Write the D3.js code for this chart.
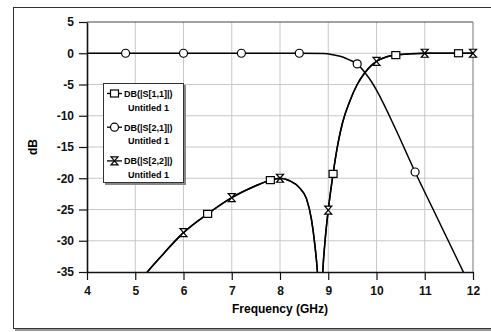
<!DOCTYPE html>
<html lang="en">
<head>
    <meta charset="UTF-8">
    <title>S-parameters</title>
    <script type="text/javascript" src="https://d3js.org/d3.v7.min.js"></script>
    <style>
        body { margin: 0; background: #fff; }
        text { font-family: "Liberation Sans", Arial, sans-serif; font-weight: bold; }
    </style>
</head>
<body>
    <svg width="491" height="332"></svg>
    <script>
        // frequency (GHz) / dB
        var s11 = [[5.0,-37.6],[5.25,-35.0],[5.5,-32.8],[6.0,-28.7],[6.5,-25.7],[7.0,-23.1],[7.5,-21.2],
            [7.8,-20.3],[8.0,-20.0],[8.2,-20.4],[8.4,-21.5],[8.55,-23.3],[8.65,-26.5],[8.72,-30.5],
            [8.78,-35.5],[8.84,-45],[8.88,-36],[8.94,-29.5],[9.0,-25.1],[9.1,-19.3],[9.2,-14.5],
            [9.3,-11.0],[9.45,-7.6],[9.6,-5.0],[9.75,-3.2],[9.9,-1.9],[10.0,-1.3],[10.2,-0.6],
            [10.4,-0.3],[10.7,-0.1],[11.0,0],[11.7,0],[12.0,0]];
        var s22 = [[5.0,-37.6],[5.25,-35.0],[5.5,-32.8],[6.0,-28.7],[6.5,-25.7],[7.0,-23.1],[7.5,-21.2],
            [7.8,-20.3],[8.0,-20.0],[8.2,-20.4],[8.4,-21.5],[8.55,-23.3],[8.65,-26.5],[8.72,-30.5],
            [8.78,-35.5],[8.84,-45],[8.88,-36],[8.94,-29.5],[9.0,-25.1],[9.1,-19.3],[9.2,-14.5],
            [9.3,-11.0],[9.45,-7.6],[9.6,-5.0],[9.75,-3.2],[9.9,-1.9],[10.0,-1.3],[10.2,-0.6],
            [10.4,-0.3],[10.7,-0.1],[11.0,0],[11.7,0],[12.0,0]];
        var s21 = [[4.0,0],[4.8,0],[6.0,0],[7.2,0],[8.4,0],[8.9,-0.05],[9.1,-0.25],[9.3,-0.6],
            [9.45,-1.1],[9.6,-1.7],[9.75,-3.0],[9.9,-4.6],[10.0,-5.9],[10.4,-12.2],[10.8,-19.0],
            [11.2,-25.4],[11.6,-31.8],[11.85,-35.8]];

        var s11Markers = [6.5, 7.8, 9.1, 10.4, 11.7];
        var s21Markers = [4.8, 6.0, 7.2, 8.4, 9.6, 10.8];
        var s22Markers = [6, 7, 8, 9, 10, 11, 12];

        var xTicks = [4, 5, 6, 7, 8, 9, 10, 11, 12];
        var yTicks = [5, 0, -5, -10, -15, -20, -25, -30, -35];
        var legendNames = ["DB(|S[1,1]|)", "DB(|S[2,1]|)", "DB(|S[2,2]|)"];
        var legendSub = "Untitled 1";

        var svg = d3.select("svg");

        // outer frame with shadow
        svg.append("rect").attr("x", 15).attr("y", 9).attr("width", 490).attr("height", 322)
            .attr("fill", "#999");
        svg.append("rect").attr("x", 13.5).attr("y", 7.5).attr("width", 490).attr("height", 321)
            .attr("fill", "#fff").attr("stroke", "#333").attr("stroke-width", 1);

        var plotL = 87, plotR = 473, plotT = 22, plotB = 272;
        var x = d3.scaleLinear().domain([4, 12]).range([plotL, plotR]);
        var y = d3.scaleLinear().domain([-35, 5]).range([plotB, plotT]);

        // grid
        svg.append("g").selectAll("line").data(xTicks.slice(1, -1)).enter().append("line")
            .attr("x1", d => x(d)).attr("x2", d => x(d)).attr("y1", plotT).attr("y2", plotB)
            .attr("stroke", "#c8c8c8").attr("stroke-width", 1);
        svg.append("g").selectAll("line").data(yTicks.slice(1, -1)).enter().append("line")
            .attr("y1", d => y(d)).attr("y2", d => y(d)).attr("x1", plotL).attr("x2", plotR)
            .attr("stroke", "#c8c8c8").attr("stroke-width", 1);

        // plot border
        svg.append("line").attr("x1", plotL).attr("x2", plotR).attr("y1", plotT).attr("y2", plotT)
            .attr("stroke", "#444").attr("stroke-width", 1);
        svg.append("line").attr("x1", plotR).attr("x2", plotR).attr("y1", plotT).attr("y2", plotB)
            .attr("stroke", "#777").attr("stroke-width", 1);

        // axes (plain hyphen for negatives, like the original)
        var fmt = d => String(d);
        var xAxis = svg.append("g").attr("transform", "translate(0," + plotB + ")")
            .call(d3.axisBottom(x).tickValues(xTicks).tickFormat(fmt).tickSize(8).tickSizeOuter(0));
        var yAxis = svg.append("g").attr("transform", "translate(" + plotL + ",0)")
            .call(d3.axisLeft(y).tickValues(yTicks).tickFormat(fmt).tickSize(8).tickSizeOuter(0));
        [xAxis, yAxis].forEach(function (a) {
            a.select(".domain").attr("stroke", "#111").attr("stroke-width", 1.6);
            a.selectAll(".tick line").attr("stroke", "#111").attr("stroke-width", 1.2);
            a.selectAll(".tick text").attr("font-size", 12).attr("fill", "#111")
                .attr("font-family", "Liberation Sans, Arial, sans-serif").attr("font-weight", "bold");
        });
        xAxis.selectAll(".tick text").attr("dy", "1.0em");
        yAxis.selectAll(".tick text").attr("x", -13);

        svg.append("text").attr("x", 280).attr("y", 313).attr("text-anchor", "middle")
            .attr("font-size", 12).text("Frequency (GHz)");
        svg.append("text").attr("transform", "translate(37,147) rotate(-90)").attr("text-anchor", "middle")
            .attr("font-size", 12).text("dB");

        // curves
        svg.append("clipPath").attr("id", "plotClip").append("rect")
            .attr("x", plotL).attr("y", plotT).attr("width", plotR - plotL).attr("height", plotB - plotT);
        var plot = svg.append("g").attr("clip-path", "url(#plotClip)");
        var line = d3.line().x(d => x(d[0])).y(d => y(d[1])).curve(d3.curveMonotoneX);
        [s11, s21, s22].forEach(function (s) {
            plot.append("path").attr("d", line(s)).attr("fill", "none")
                .attr("stroke", "#000").attr("stroke-width", 1.5);
        });

        function valueAt(series, f) {
            return series.find(p => Math.abs(p[0] - f) < 1e-6)[1];
        }

        function drawSquare(g, cx, cy) {
            g.append("rect").attr("x", cx - 4).attr("y", cy - 3.5).attr("width", 8).attr("height", 7)
                .attr("fill", "#fff").attr("stroke", "#000").attr("stroke-width", 1.2);
        }
        function drawCircle(g, cx, cy) {
            g.append("circle").attr("cx", cx).attr("cy", cy).attr("r", 4)
                .attr("fill", "#fff").attr("stroke", "#000").attr("stroke-width", 1.2);
        }
        function drawBowtie(g, cx, cy) {
            g.append("path")
                .attr("d", "M" + (cx - 3.5) + "," + (cy - 4) + "H" + (cx + 3.5) + "L" + (cx - 3.5) + "," + (cy + 4)
                    + "H" + (cx + 3.5) + "Z")
                .attr("fill", "#fff").attr("stroke", "#000").attr("stroke-width", 1.2);
        }

        var markerG = svg.append("g");
        s11Markers.forEach(f => drawSquare(markerG, x(f), y(valueAt(s11, f))));
        s21Markers.forEach(f => drawCircle(markerG, x(f), y(valueAt(s21, f))));
        s22Markers.forEach(f => drawBowtie(markerG, x(f), y(valueAt(s22, f))));

        // legend
        var lg = svg.append("g");
        lg.append("rect").attr("x", 105).attr("y", 85).attr("width", 81).attr("height", 100).attr("fill", "#888");
        lg.append("rect").attr("x", 103.5).attr("y", 83.5).attr("width", 80).attr("height", 99)
            .attr("fill", "#fff").attr("stroke", "#333").attr("stroke-width", 1);
        var drawers = [drawSquare, drawCircle, drawBowtie];
        legendNames.forEach(function (name, i) {
            var ly = 93.5 + i * 33.7;
            lg.append("line").attr("x1", 107).attr("x2", 122).attr("y1", ly).attr("y2", ly)
                .attr("stroke", "#000").attr("stroke-width", 1.3);
            drawers[i](lg, 114.5, ly);
            lg.append("text").attr("x", 124).attr("y", ly + 3.5).attr("font-size", 9).text(name);
            lg.append("text").attr("x", 128).attr("y", ly + 17).attr("font-size", 9).text(legendSub);
        });
    </script>
</body>
</html>
